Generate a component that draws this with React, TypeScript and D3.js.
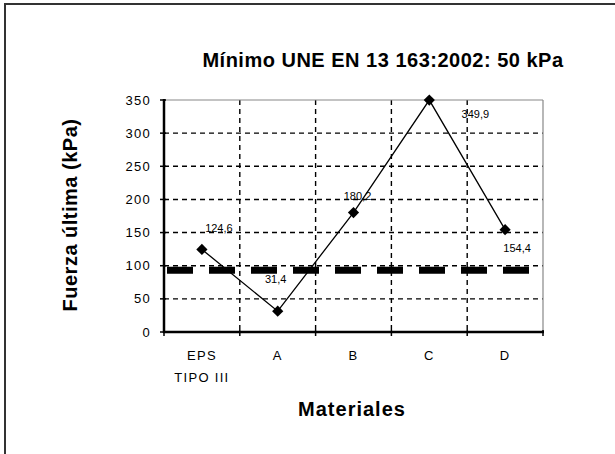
import React from "react";
import * as d3 from "d3";

const categories: string[][] = [["EPS", "TIPO III"], ["A"], ["B"], ["C"], ["D"]];
const values: number[] = [124.6, 31.4, 180.2, 349.9, 154.4];
const valueLabels: string[] = ["124,6", "31,4", "180,2", "349,9", "154,4"];
const yTicks: number[] = [0, 50, 100, 150, 200, 250, 300, 350];
const referenceValue: number = 93;
const title = "Mínimo UNE EN 13 163:2002: 50 kPa";
const xTitle = "Materiales";
const yTitle = "Fuerza última (kPa)";

// label offsets relative to the point (layout, not data)
const labelOffsets: [number, number][] = [
  [17, -21],
  [-2, -32],
  [4, -17],
  [46, 14],
  [12, 18],
];

export default function App() {
  const W = 615;
  const H = 454;
  const left = 164;
  const right = 543;
  const top = 100;
  const bottom = 332;
  const font = "'Liberation Sans', Arial, sans-serif";

  const x = d3
    .scaleBand<number>()
    .domain(d3.range(categories.length))
    .range([left, right]);
  const y = d3.scaleLinear().domain([0, 350]).range([bottom, top]);

  const cx = (i: number) => (x(i) as number) + x.bandwidth() / 2;
  const line = d3
    .line<number>()
    .x((_, i) => cx(i))
    .y((d) => y(d));

  const boundaries = d3.range(categories.length + 1).map((i) =>
    i < categories.length ? (x(i) as number) : right
  );

  return (
    <svg
      width={W}
      height={H}
      style={{ position: "absolute", left: 0, top: 0, background: "#fff" }}
    >
      <rect x={0} y={0} width={W} height={H} fill="#fff" />
      {/* outer frame */}
      <rect
        x={5}
        y={4}
        width={W + 20}
        height={H + 20}
        fill="none"
        stroke="#333"
        strokeWidth={2}
      />
      {/* title */}
      <text
        x={383}
        y={67}
        textAnchor="middle"
        fontFamily={font}
        fontWeight="bold"
        fontSize={20}
        letterSpacing={0.5}
        fill="#000"
      >
        {title}
      </text>

      {/* horizontal gridlines */}
      {yTicks
        .filter((t) => t > 0 && t < 350)
        .map((t) => (
          <line
            key={"hg" + t}
            x1={left}
            x2={right}
            y1={y(t)}
            y2={y(t)}
            stroke="#000"
            strokeWidth={1.4}
            strokeDasharray="5,4"
          />
        ))}
      {/* vertical gridlines */}
      {boundaries.slice(1, -1).map((bx, i) => (
        <line
          key={"vg" + i}
          x1={bx}
          x2={bx}
          y1={top}
          y2={bottom}
          stroke="#000"
          strokeWidth={1.4}
          strokeDasharray="5,4"
        />
      ))}
      {/* plot border top/right */}
      <line x1={left} x2={right} y1={top} y2={top} stroke="#888" strokeWidth={1.2} />
      <line x1={right} x2={right} y1={top} y2={bottom} stroke="#888" strokeWidth={1.2} />

      {/* reference thick dashed line */}
      <line
        x1={left + 3}
        x2={right - 2}
        y1={y(referenceValue)}
        y2={y(referenceValue)}
        stroke="#000"
        strokeWidth={7}
        strokeDasharray="26,16"
      />

      {/* axes */}
      <line x1={left} x2={left} y1={top - 1} y2={bottom + 1} stroke="#000" strokeWidth={2.5} />
      <line x1={left - 1} x2={right + 1} y1={bottom} y2={bottom} stroke="#000" strokeWidth={2.5} />
      {yTicks.map((t) => (
        <g key={"yt" + t}>
          <line x1={left - 4} x2={left + 2} y1={y(t)} y2={y(t)} stroke="#000" strokeWidth={1.5} />
          <text
            x={151}
            y={y(t) + 4.5}
            textAnchor="end"
            fontFamily={font}
            fontSize={13}
            letterSpacing={1.3}
            fill="#000"
          >
            {t}
          </text>
        </g>
      ))}
      {boundaries.map((bx, i) => (
        <line
          key={"xt" + i}
          x1={bx}
          x2={bx}
          y1={bottom - 2}
          y2={bottom + 4}
          stroke="#000"
          strokeWidth={1.5}
        />
      ))}
      {categories.map((lines, i) => (
        <text
          key={"xl" + i}
          x={cx(i)}
          y={360}
          textAnchor="middle"
          fontFamily={font}
          fontSize={13}
          letterSpacing={1.3}
          fill="#000"
        >
          {lines.map((l, j) => (
            <tspan key={j} x={cx(i)} dy={j === 0 ? 0 : 22}>
              {l}
            </tspan>
          ))}
        </text>
      ))}

      {/* axis titles */}
      <text
        x={352}
        y={416}
        textAnchor="middle"
        fontFamily={font}
        fontWeight="bold"
        fontSize={20}
        letterSpacing={1}
        fill="#000"
      >
        {xTitle}
      </text>
      <text
        transform={`translate(77,215) rotate(-90)`}
        textAnchor="middle"
        fontFamily={font}
        fontWeight="bold"
        fontSize={20}
        letterSpacing={0.5}
        fill="#000"
      >
        {yTitle}
      </text>

      {/* series line */}
      <path d={line(values) || ""} fill="none" stroke="#000" strokeWidth={1.3} />
      {values.map((v, i) => (
        <path
          key={"m" + i}
          d={d3.symbol().type(d3.symbolDiamond2).size(80)() || ""}
          transform={`translate(${cx(i)},${y(v)})`}
          fill="#000"
        />
      ))}
      {values.map((v, i) => (
        <text
          key={"dl" + i}
          x={cx(i) + labelOffsets[i][0]}
          y={y(v) + labelOffsets[i][1] + 4}
          textAnchor="middle"
          fontFamily={font}
          fontSize={11}
          fill="#000"
        >
          {valueLabels[i]}
        </text>
      ))}
    </svg>
  );
}
